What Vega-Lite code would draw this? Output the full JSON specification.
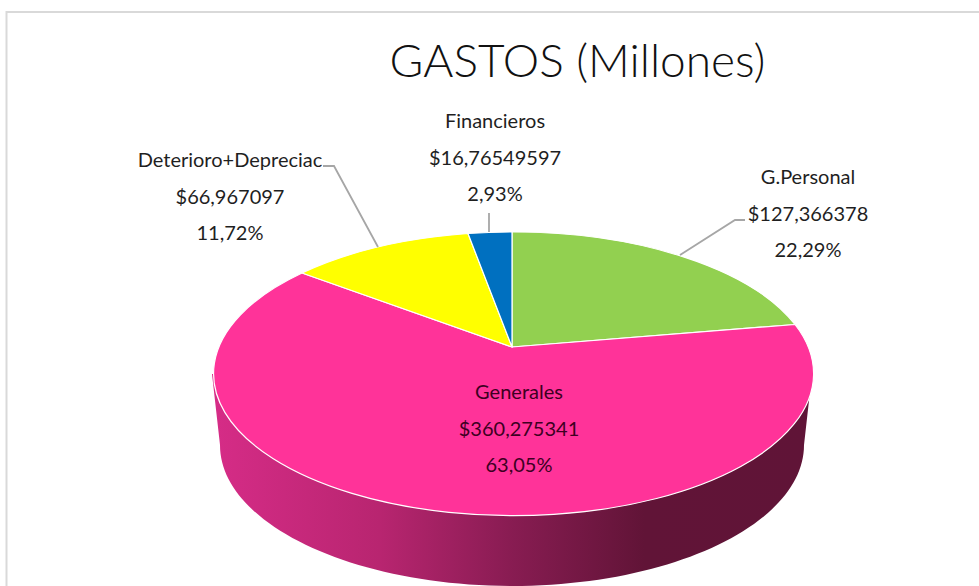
{
  "$schema": "https://vega.github.io/schema/vega-lite/v6.json",
  "width": 979,
  "height": 586,
  "padding": 0,
  "autosize": {"type": "none"},
  "background": "white",
  "config": {"view": {"stroke": null}},
  "title": {
    "text": "GASTOS (Millones)",
    "orient": "top",
    "anchor": "middle",
    "offset": -123,
    "dx": 88,
    "baseline": "alphabetic",
    "font": "Lato",
    "fontSize": 46,
    "fontWeight": 300,
    "color": "#111111"
  },
  "resolve": {"scale": {"shape": "independent", "fill": "independent"}},
  "data": {
    "values": [
      {"categoria": "G.Personal", "valor": 127.366378, "porcentaje": 22.29, "etiqueta": "G.Personal|$127,366378|22,29%"},
      {"categoria": "Generales", "valor": 360.275341, "porcentaje": 63.05, "etiqueta": "Generales|$360,275341|63,05%"},
      {"categoria": "Deterioro+Depreciac", "valor": 66.967097, "porcentaje": 11.72, "etiqueta": "Deterioro+Depreciac|$66,967097|11,72%"},
      {"categoria": "Financieros", "valor": 16.76549597, "porcentaje": 2.93, "etiqueta": "Financieros|$16,76549597|2,93%"}
    ]
  },
  "layer": [
    {
      "data": {"values": [{"elemento": "marco"}]},
      "mark": {
        "type": "point",
        "shape": "M-483,293 L-483,-281 L490,-281",
        "size": 4,
        "filled": false,
        "stroke": "#d9d9d9",
        "strokeWidth": 2,
        "opacity": 1
      }
    },
    {
      "transform": [{"filter": "datum.categoria === 'Generales'"}],
      "mark": {
        "type": "point",
        "shape": "M-300,27 L-292,98 A292,141 0 0 0 292,98 L300,27 Z",
        "size": 4,
        "filled": true,
        "opacity": 1,
        "xOffset": 22.5,
        "yOffset": 54,
        "fill": {
          "x1": 0, "y1": 0, "x2": 1, "y2": 0,
          "gradient": "linear",
          "stops": [
            {"offset": 0, "color": "#d62c87"},
            {"offset": 0.28, "color": "#b82570"},
            {"offset": 0.5, "color": "#881c52"},
            {"offset": 0.72, "color": "#611437"},
            {"offset": 1, "color": "#601437"}
          ]
        }
      }
    },
    {
      "mark": {
        "type": "point",
        "size": 4,
        "filled": true,
        "opacity": 1,
        "stroke": "white",
        "strokeWidth": 1.2,
        "xOffset": 22.5,
        "yOffset": 54
      },
      "encoding": {
        "shape": {
          "field": "categoria",
          "type": "nominal",
          "legend": null,
          "scale": {
            "domain": ["G.Personal", "Generales", "Deterioro+Depreciac", "Financieros"],
            "range": [
              "M0,0 L0,-115 A300,142 0 0 1 283,-22.5 Z",
              "M0,0 L283,-22.5 A300,142 0 1 1 -210,-74 Z",
              "M0,0 L-210,-74 A300,142 0 0 1 -44,-113.5 Z",
              "M0,0 L-44,-113.5 A300,142 0 0 1 0,-115 Z"
            ]
          }
        },
        "fill": {
          "field": "categoria",
          "type": "nominal",
          "legend": null,
          "scale": {
            "domain": ["G.Personal", "Generales", "Deterioro+Depreciac", "Financieros"],
            "range": ["#92D050", "#FF3399", "#FFFF00", "#0070C0"]
          }
        }
      }
    },
    {
      "transform": [{"filter": "datum.categoria !== 'Generales'"}],
      "mark": {
        "type": "point",
        "size": 4,
        "filled": false,
        "opacity": 1,
        "stroke": "#a6a6a6",
        "strokeWidth": 1.8,
        "xOffset": 22.5,
        "yOffset": 54
      },
      "encoding": {
        "shape": {
          "field": "categoria",
          "type": "nominal",
          "legend": null,
          "scale": {
            "domain": ["G.Personal", "Deterioro+Depreciac", "Financieros"],
            "range": [
              "M233,-127 L223,-127 L168,-92",
              "M-189,-181 L-178,-181 L-134,-100",
              "M-23,-134 L-23,-115"
            ]
          }
        }
      }
    },
    {
      "transform": [{"filter": "datum.categoria === 'G.Personal'"}],
      "mark": {"type": "text", "font": "Lato", "fontSize": 20, "color": "#1f1f1f", "align": "center", "baseline": "alphabetic", "lineBreak": "|", "lineHeight": 36.5, "xOffset": 318.5, "yOffset": -109},
      "encoding": {"text": {"field": "etiqueta"}}
    },
    {
      "transform": [{"filter": "datum.categoria === 'Generales'"}],
      "mark": {"type": "text", "font": "Lato", "fontSize": 20, "color": "#3d0022", "align": "center", "baseline": "alphabetic", "lineBreak": "|", "lineHeight": 36.5, "xOffset": 29.5, "yOffset": 106},
      "encoding": {"text": {"field": "etiqueta"}}
    },
    {
      "transform": [{"filter": "datum.categoria === 'Deterioro+Depreciac'"}],
      "mark": {"type": "text", "font": "Lato", "fontSize": 20, "color": "#1f1f1f", "align": "center", "baseline": "alphabetic", "lineBreak": "|", "lineHeight": 36.5, "xOffset": -259.5, "yOffset": -126},
      "encoding": {"text": {"field": "etiqueta"}}
    },
    {
      "transform": [{"filter": "datum.categoria === 'Financieros'"}],
      "mark": {"type": "text", "font": "Lato", "fontSize": 20, "color": "#1f1f1f", "align": "center", "baseline": "alphabetic", "lineBreak": "|", "lineHeight": 36.5, "xOffset": 5.5, "yOffset": -165},
      "encoding": {"text": {"field": "etiqueta"}}
    }
  ]
}
